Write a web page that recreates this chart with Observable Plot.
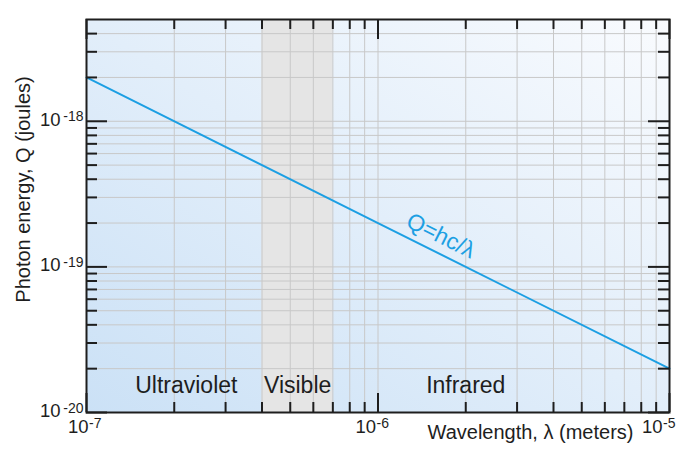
<!DOCTYPE html>
<html><head><meta charset="utf-8">
<script src="https://cdn.jsdelivr.net/npm/d3@7"></script>
<script src="https://cdn.jsdelivr.net/npm/@observablehq/plot@0.6"></script>
<style>body{margin:0;background:#fff;} svg{display:block;}</style>
</head><body><div id="chart"></div>
<script>
// ---- data ----
const lineWavelengths = [1e-7, 1e-6, 1e-5];
const lineEnergies = [2e-18, 2e-19, 2e-20];
const regionNames = ["Ultraviolet", "Visible", "Infrared"];
const regionCenters = [2.2e-7, 5.3e-7, 2.0e-6];
const visibleBand = [4e-7, 7e-7];
const xDomain = [1e-7, 1e-5];
const yDomain = [1e-20, 5e-18];
const xMajor = [1e-7, 1e-6, 1e-5];
const xMinor = [2e-7, 3e-7, 4e-7, 5e-7, 6e-7, 7e-7, 8e-7, 9e-7,
                2e-6, 3e-6, 4e-6, 5e-6, 6e-6, 7e-6, 8e-6, 9e-6];
const yMajor = [1e-20, 1e-19, 1e-18];
const yMinor = [2e-20, 3e-20, 4e-20, 5e-20, 6e-20, 7e-20, 8e-20, 9e-20,
                2e-19, 3e-19, 4e-19, 5e-19, 6e-19, 7e-19, 8e-19, 9e-19,
                2e-18, 3e-18, 4e-18];
const xTickBase = ["10", "10", "10"];
const xTickExp = ["-7", "-6", "-5"];
const yTickBase = ["10", "10", "10"];
const yTickExp = ["-20", "-19", "-18"];
const curveLabel = ["Q=hc/λ"];
const curveLabelAt = {w: 1.63e-6, q: 1.23e-19};
const xTitle = ["Wavelength, λ (meters)"];
const yTitle = ["Photon energy, Q (joules)"];

// ---- layout ----
const W = 689, H = 451;
const mL = 86, mR = 20, mT = 19, mB = 39;
const PW = W - mL - mR, PH = H - mT - mB;
const ink = "#1e1e1e";
const blue = "#1c9fe3";
const font = "Liberation Sans, Arial, Helvetica, sans-serif";

const lineData = lineWavelengths.map((w, i) => ({w, q: lineEnergies[i]}));
const regionData = regionNames.map((n, i) => ({n, w: regionCenters[i]}));

function xTickLabel(i, dx) {
  const d = [xMajor[i]];
  return [
    Plot.text(d, {x: v => v, frameAnchor: "bottom", text: () => xTickBase[i], textAnchor: "end",
      lineAnchor: "bottom", dx: dx, dy: 20.5, fontSize: 18.5, fill: ink}),
    Plot.text(d, {x: v => v, frameAnchor: "bottom", text: () => xTickExp[i], textAnchor: "start",
      lineAnchor: "bottom", dx: dx + 0.5, dy: 15, fontSize: 14, fill: ink})
  ];
}

const svg = Plot.plot({
  width: W, height: H,
  marginLeft: mL, marginRight: mR, marginTop: mT, marginBottom: mB,
  style: {fontFamily: font, background: "white", overflow: "visible"},
  x: {type: "log", domain: xDomain, axis: null},
  y: {type: "log", domain: yDomain, axis: null},
  marks: [
    Plot.frame({fill: "url(#bgGrad)", stroke: null}),
    Plot.rect([visibleBand], {x1: d => d[0], x2: d => d[1], fill: "#e5e5e5"}),
    Plot.ruleX([...xMinor, ...xMajor], {stroke: "#c8c8c8", strokeWidth: 1}),
    Plot.ruleY([...yMinor, ...yMajor], {stroke: "#c8c8c8", strokeWidth: 1}),
    Plot.line(lineData, {x: "w", y: "q", stroke: blue, strokeWidth: 2}),
    Plot.text(curveLabel, {x: () => curveLabelAt.w, y: () => curveLabelAt.q, rotate: 26.57,
      dy: -18, dx: 1, fontSize: 23, fill: blue, textAnchor: "middle", lineAnchor: "middle"}),
    Plot.text(regionData, {x: "w", text: "n", frameAnchor: "bottom", lineAnchor: "bottom",
      dy: -19.4, fontSize: 23, fill: ink}),
    // ticks (inward, all four sides)
    Plot.ruleX(xMinor, {insetTop: PH - 10, stroke: ink, strokeWidth: 2}),
    Plot.ruleX(xMinor, {insetBottom: PH - 10, stroke: ink, strokeWidth: 2}),
    Plot.ruleX(xMajor, {insetTop: PH - 19, stroke: ink, strokeWidth: 2}),
    Plot.ruleX(xMajor, {insetBottom: PH - 20, stroke: ink, strokeWidth: 2}),
    Plot.ruleY(yMinor, {insetRight: PW - 11, stroke: ink, strokeWidth: 2}),
    Plot.ruleY(yMinor, {insetLeft: PW - 11, stroke: ink, strokeWidth: 2}),
    Plot.ruleY(yMajor, {insetRight: PW - 21, stroke: ink, strokeWidth: 2}),
    Plot.ruleY(yMajor, {insetLeft: PW - 21, stroke: ink, strokeWidth: 2}),
    // y tick labels
    Plot.text(yMajor, {y: d => d, frameAnchor: "left", text: (d, i) => yTickBase[i], textAnchor: "end",
      lineAnchor: "bottom", dx: -26, dy: 4.3, fontSize: 18.5, fill: ink}),
    Plot.text(yMajor, {y: d => d, frameAnchor: "left", text: (d, i) => yTickExp[i], textAnchor: "end",
      lineAnchor: "bottom", dx: -3, dy: 0, fontSize: 14, fill: ink}),
    // x tick labels
    ...xTickLabel(0, 2),
    ...xTickLabel(1, -2),
    ...xTickLabel(2, -7),
    // axis titles
    Plot.text(xTitle, {frameAnchor: "bottom-right", textAnchor: "end", lineAnchor: "bottom",
      dx: -36, dy: 26.6, fontSize: 20, fill: ink}),
    Plot.text(yTitle, {frameAnchor: "left", rotate: -90, textAnchor: "start", lineAnchor: "bottom",
      dx: -56.7, dy: 86.7, fontSize: 20, fill: ink}),
    Plot.frame({stroke: ink, strokeWidth: 2})
  ]
});

const ns = "http://www.w3.org/2000/svg";
const defs = document.createElementNS(ns, "defs");
const grad = document.createElementNS(ns, "linearGradient");
grad.setAttribute("id", "bgGrad");
grad.setAttribute("x1", "0"); grad.setAttribute("y1", "1");
grad.setAttribute("x2", "1"); grad.setAttribute("y2", "0");
[["0", "#cbe1f6"], ["1", "#f9fbfe"]].forEach(([o, c]) => {
  const s = document.createElementNS(ns, "stop");
  s.setAttribute("offset", o); s.setAttribute("stop-color", c);
  grad.appendChild(s);
});
defs.appendChild(grad);
svg.insertBefore(defs, svg.firstChild);
document.getElementById("chart").appendChild(svg);
</script>
</body></html>
